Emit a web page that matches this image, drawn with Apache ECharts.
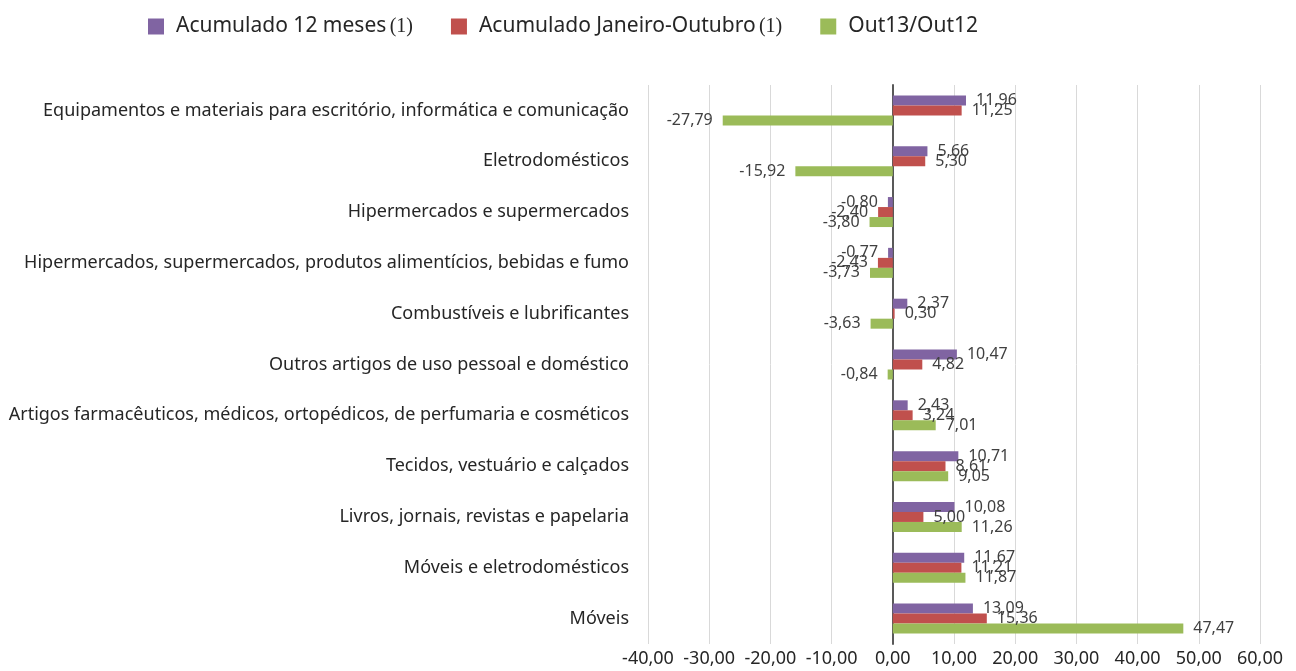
<!DOCTYPE html>
<html>
<head>
<meta charset="utf-8">
<script src="https://cdn.jsdelivr.net/npm/echarts@6/dist/echarts.min.js"></script>
<style>
  html, body { margin: 0; padding: 0; background: #fff; }
  #chart { width: 1296px; height: 671px; }
</style>
</head>
<body>
<div id="chart"></div>
<script>
// categories, top to bottom
var categories = [
  'Equipamentos e materiais para escritório, informática e comunicação',
  'Eletrodomésticos',
  'Hipermercados e supermercados',
  'Hipermercados, supermercados, produtos alimentícios, bebidas e fumo',
  'Combustíveis e lubrificantes',
  'Outros artigos de uso pessoal e doméstico',
  'Artigos farmacêuticos, médicos, ortopédicos, de perfumaria e cosméticos',
  'Tecidos, vestuário e calçados',
  'Livros, jornais, revistas e papelaria',
  'Móveis e eletrodomésticos',
  'Móveis'
];
var acum12 = [11.96, 5.66, -0.80, -0.77, 2.37, 10.47, 2.43, 10.71, 10.08, 11.67, 13.09];
var acumJanOut = [11.25, 5.30, -2.40, -2.43, 0.30, 4.82, 3.24, 8.61, 5.00, 11.21, 15.36];
var out13 = [-27.79, -15.92, -3.80, -3.73, -3.63, -0.84, 7.01, 9.05, 11.26, 11.87, 47.47];

var seriesNames = ['Acumulado 12 meses', 'Acumulado Janeiro-Outubro', 'Out13/Out12'];
var colors = ['#8064A2', '#C0504D', '#9BBB59'];

function fmt(v) {
  return v.toFixed(2).replace('.', ',');
}

// label goes left for negatives, right for positives
function withLabels(arr) {
  return arr.map(function (v) {
    return {
      value: v,
      label: { position: v < 0 ? 'left' : 'right' }
    };
  });
}

var chart = echarts.init(document.getElementById('chart'));

var series = [acum12, acumJanOut, out13].map(function (arr, i) {
  return {
    name: seriesNames[i],
    type: 'bar',
    data: withLabels(arr),
    barWidth: 10,
    barGap: '0%',
    itemStyle: { color: colors[i] },
    label: {
      show: true,
      distance: 10,
      color: '#404040',
      fontSize: 16,
      fontFamily: 'Noto Sans',
      formatter: function (p) { return fmt(p.value); }
    }
  };
});

chart.setOption({
  animation: false,
  color: colors,
  legend: {
    left: 143,
    top: 11,
    itemWidth: 16,
    itemHeight: 16,
    itemGap: 38,
    icon: 'rect',
    data: seriesNames,
    formatter: function (name) {
      if (name === 'Out13/Out12') return '{a|' + name + '}';
      return '{a|' + name + '} {b|(1)}';
    },
    textStyle: {
      rich: {
        a: { fontSize: 21, color: '#262626', fontFamily: 'Noto Sans', padding: [0, 0, 0, 7] },
        b: { fontSize: 20, color: '#262626', fontFamily: 'Liberation Serif' }
      }
    }
  },
  grid: {
    left: 648,
    right: 36,
    top: 85,
    bottom: 27,
    outerBoundsMode: 'none',
    containLabel: false
  },
  xAxis: {
    type: 'value',
    min: -40,
    max: 60,
    interval: 10,
    axisLine: { show: false },
    axisTick: { show: false },
    splitLine: { lineStyle: { color: '#d9d9d9', width: 1 } },
    axisLabel: {
      color: '#262626',
      fontSize: 18,
      fontFamily: 'Noto Sans',
      margin: 6,
      formatter: function (v) { return fmt(v); }
    }
  },
  yAxis: {
    type: 'category',
    data: categories,
    inverse: true,
    axisLine: { onZero: true, lineStyle: { color: '#595959', width: 2 } },
    axisTick: { show: false },
    axisLabel: {
      color: '#262626',
      fontSize: 18,
      fontFamily: 'Noto Sans',
      margin: 19
    }
  },
  series: series
});
</script>
</body>
</html>
